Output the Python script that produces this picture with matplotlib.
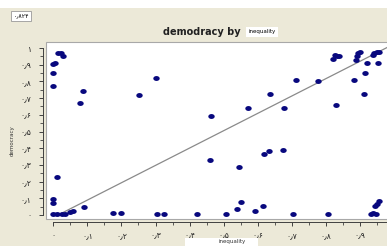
import numpy as np
import matplotlib
matplotlib.use('Agg')
import matplotlib.pyplot as plt
from matplotlib.patches import Rectangle
from matplotlib.path import Path
from matplotlib.ticker import MultipleLocator, FuncFormatter

# values
inequality = [0.015, 0.022, 0.03, 0.005, 0.0, 0.0, 0.0, 0.088, 0.078,
              0.012, 0.0, 0.0,
              0.0, 0.012, 0.025, 0.034, 0.049, 0.057, 0.09, 0.176, 0.2, 0.303, 0.326, 0.422,
              0.252, 0.30, 0.464, 0.461, 0.57, 0.545, 0.552, 0.538, 0.506,
              0.591, 0.616, 0.619, 0.633, 0.675, 0.636, 0.678, 0.702, 0.712, 0.775, 0.806,
              0.821, 0.826, 0.833, 0.839, 0.829, 0.883, 0.888, 0.892, 0.895, 0.90,
              0.911, 0.914, 0.919, 0.937, 0.94, 0.948, 0.956, 0.951,
              0.931, 0.939, 0.946, 0.943, 0.948, 0.955]
democracy = [0.97, 0.97, 0.95, 0.91, 0.905, 0.85, 0.77, 0.74, 0.67,
             0.23, 0.094, 0.072,
             0.005, 0.005, 0.005, 0.008, 0.02, 0.022, 0.048, 0.01, 0.01, 0.006, 0.006, 0.003,
             0.72, 0.82, 0.593, 0.33, 0.64, 0.285, 0.08, 0.034, 0.006,
             0.024, 0.054, 0.363, 0.385, 0.39, 0.725, 0.64, 0.005, 0.81, 0.80, 0.005,
             0.935, 0.96, 0.95, 0.95, 0.66, 0.81, 0.93, 0.95, 0.97, 0.975,
             0.725, 0.85, 0.91, 0.96, 0.97, 0.975, 0.975, 0.91,
             0.005, 0.01, 0.006, 0.056, 0.068, 0.082]

fit_intercept = -0.015
fit_slope = 1.04
fit_range = [0.01, 1.0]

title_text = 'demodracy by'
var_text = 'inequality'
ylabel_text = 'democracy'
r2_text = '۰٫۸۲۴'

fa_digits = '۰۱۲۳۴۵۶۷۸۹'


def fa_label(v, pos=None, top=1.0):
    v = round(v, 1)
    if v < 0 or v > top:
        return ''
    if v == 0:
        return '۰'
    if v == 1:
        return '۱'
    return '۰٫' + fa_digits[int(round(v * 10))]


W, H = 387, 246
fig = plt.figure(figsize=(W / 100, H / 100), dpi=100, facecolor='#ece9d8')
fig.patches.append(Rectangle((0, 1 - 8 / H), 1, 8 / H, transform=fig.transFigure,
                             facecolor='white', edgecolor='none'))

ax = fig.add_axes([46 / W, (H - 219) / H, (411 - 46) / W, (219 - 42) / H])
ax.set_xlim(-0.021, 1.049)
ax.set_ylim(-0.024, 1.036)
ax.patch.set_facecolor('white')
ax.patch.set_edgecolor('#a8a8a8')
ax.patch.set_linewidth(0.8)

for s in ['top', 'right']:
    ax.spines[s].set_visible(False)
for s in ['left', 'bottom']:
    ax.spines[s].set_position(('outward', 2.5))
    ax.spines[s].set_color('#404040')
    ax.spines[s].set_linewidth(0.7)
    ax.spines[s].set_bounds(0, 1)

ax.xaxis.set_major_locator(MultipleLocator(0.1))
ax.yaxis.set_major_locator(MultipleLocator(0.1))
ax.xaxis.set_minor_locator(MultipleLocator(0.05))
ax.yaxis.set_minor_locator(MultipleLocator(0.05))
ax.xaxis.set_major_formatter(FuncFormatter(lambda v, p: fa_label(v, p, top=0.9)))
ax.yaxis.set_major_formatter(FuncFormatter(fa_label))
ax.tick_params(which='major', direction='out', length=3, width=0.7, color='#404040',
               labelsize=5.5, labelcolor='#222222')
ax.tick_params(which='minor', direction='out', length=2, width=0.6, color='#404040')
ax.tick_params(axis='y', pad=5)
ax.tick_params(axis='x', pad=3)

# slightly flat dot, like the original
t = np.linspace(0, 2 * np.pi, 40)
dot = Path(np.column_stack([1.3 * np.cos(t), np.sin(t)]))

xx = np.array(fit_range)
ax.plot(xx, fit_intercept + fit_slope * xx, color='#8a8a8a', lw=0.9, zorder=2)
ax.plot(inequality, democracy, ls='none', marker=dot, ms=4.6, color='#08087e',
        mec='none', zorder=3)

fig.text(202 / W, 1 - 32 / H, title_text, ha='center', va='center', fontsize=7,
         fontweight='bold', color='#202020')
fig.text(262 / W, 1 - 32 / H, var_text, ha='center', va='center', fontsize=4,
         bbox=dict(facecolor='white', edgecolor='none', pad=1.5))
fig.text(21 / W, 1 - 16 / H, r2_text, ha='center', va='center', fontsize=4.5,
         bbox=dict(facecolor='white', edgecolor='#999999', lw=0.6, pad=1.5))
fig.text(12 / W, 1 - 141 / H, ylabel_text, rotation=90, ha='center', va='center',
         fontsize=4, color='#333333')
fig.patches.append(Rectangle((185 / W, 0), 73 / W, 8 / H, transform=fig.transFigure,
                             facecolor='white', edgecolor='none'))
fig.text(232 / W, 4 / H, var_text, ha='center', va='center', fontsize=4, color='#333333')

fig.savefig('out.png', dpi=100, facecolor=fig.get_facecolor())
